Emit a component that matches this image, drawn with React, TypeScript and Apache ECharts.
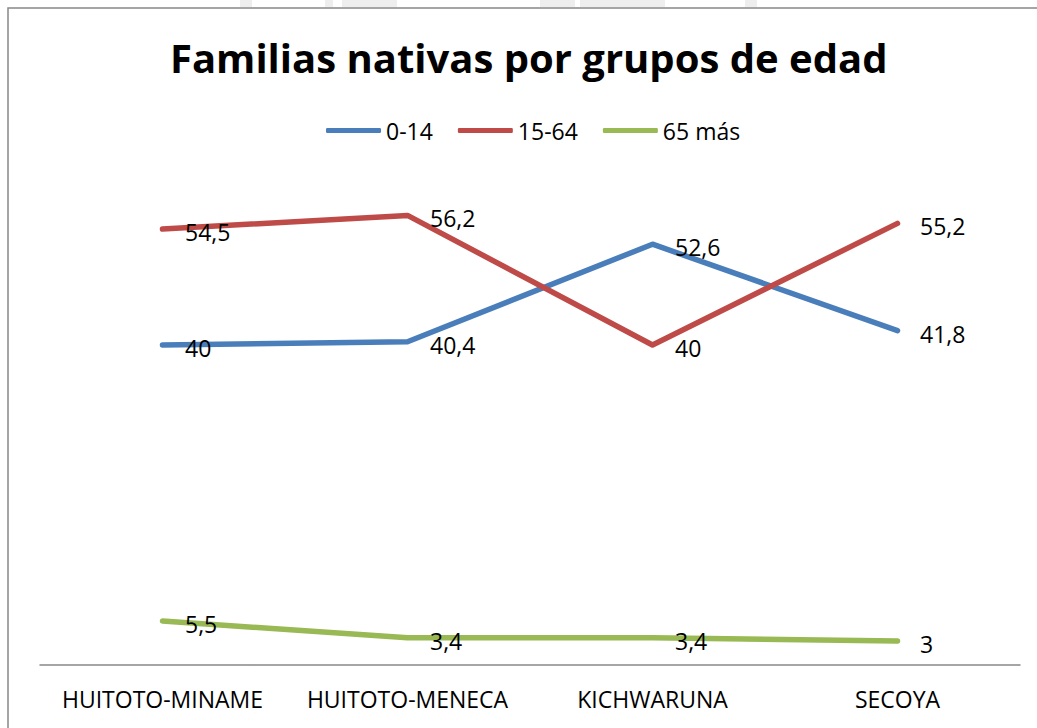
import React, { useEffect, useRef } from "react";
import * as echarts from "echarts";

const categories = ["HUITOTO-MINAME", "HUITOTO-MENECA", "KICHWARUNA", "SECOYA"];
const seriesNames = ["0-14", "15-64", "65 más"];
const values0_14 = [40, 40.4, 52.6, 41.8];
const values15_64 = [54.5, 56.2, 40, 55.2];
const values65 = [5.5, 3.4, 3.4, 3];
const colors = ["#4A7EBB", "#BE4B48", "#98B954"];

const FONT = "'Open Sans', 'Noto Sans', sans-serif";

export default function App() {
  const ref = useRef<HTMLDivElement>(null);
  useEffect(() => {
    if (!ref.current) return;
    const chart = echarts.init(ref.current, null, { renderer: "svg" });
    const fmt = (p: any) => String(p.value).replace(".", ",");
    const mk = (name: string, data: number[], color: string) => ({
      name,
      type: "line",
      data,
      symbol: "circle",
      symbolSize: 1,
      showSymbol: true,
      itemStyle: { color: "rgba(0,0,0,0)", borderWidth: 0 },
      lineStyle: { color, width: 5.5, cap: "round", join: "round" },
      label: {
        show: true,
        position: "right",
        distance: 0,
        offset: [22, 3],
        formatter: fmt,
        color: "#000",
        fontSize: 23,
        fontFamily: FONT,
      },
      emphasis: { disabled: true },
    });
    chart.setOption({
      animation: false,
      backgroundColor: "#fff",
      title: {
        text: "Familias nativas por grupos de edad",
        left: 165,
        top: 32,
        textStyle: { fontSize: 40, fontWeight: "bold", fontFamily: FONT, color: "#000" },
      },
      legend: {
        data: seriesNames.map((n, i) => ({ name: n, itemStyle: { color: colors[i], opacity: 1 } })),
        top: 114,
        left: 321,
        icon: "roundRect",
        itemWidth: 55,
        itemHeight: 5,
        itemGap: 25,
        textStyle: { fontSize: 23, fontFamily: FONT, color: "#000" },
      },
      grid: { left: 40, right: 17, top: 185, bottom: 63, containLabel: false },
      xAxis: {
        type: "category",
        data: categories,
        boundaryGap: true,
        axisLine: { show: true, lineStyle: { color: "#888", width: 1.5 } },
        axisTick: { show: false },
        axisLabel: { fontSize: 23, fontFamily: FONT, color: "#000", margin: 22, interval: 0 },
      },
      yAxis: {
        type: "value",
        min: 0,
        max: 60,
        interval: 10,
        show: false,
        splitLine: { show: false },
      },
      graphic: [
        {
          type: "rect",
          shape: { x: 8, y: 8, width: 1100, height: 800 },
          style: { fill: "none", stroke: "#888", lineWidth: 1.5 },
          silent: true,
        },
        { type: "rect", shape: { x: 240, y: 0, width: 12, height: 7 }, style: { fill: "#eee" }, silent: true },
        { type: "rect", shape: { x: 325, y: 0, width: 8, height: 7 }, style: { fill: "#eee" }, silent: true },
        { type: "rect", shape: { x: 342, y: 0, width: 55, height: 7 }, style: { fill: "#eee" }, silent: true },
        { type: "rect", shape: { x: 540, y: 0, width: 35, height: 7 }, style: { fill: "#eee" }, silent: true },
        { type: "rect", shape: { x: 580, y: 0, width: 85, height: 7 }, style: { fill: "#eee" }, silent: true },
        { type: "rect", shape: { x: 745, y: 0, width: 12, height: 7 }, style: { fill: "#eee" }, silent: true },
      ],
      series: [
        mk(seriesNames[0], values0_14, colors[0]),
        mk(seriesNames[1], values15_64, colors[1]),
        mk(seriesNames[2], values65, colors[2]),
      ],
    });
    return () => chart.dispose();
  }, []);
  return <div ref={ref} style={{ width: 1037, height: 728, position: "absolute", left: 0, top: 0 }} />;
}
